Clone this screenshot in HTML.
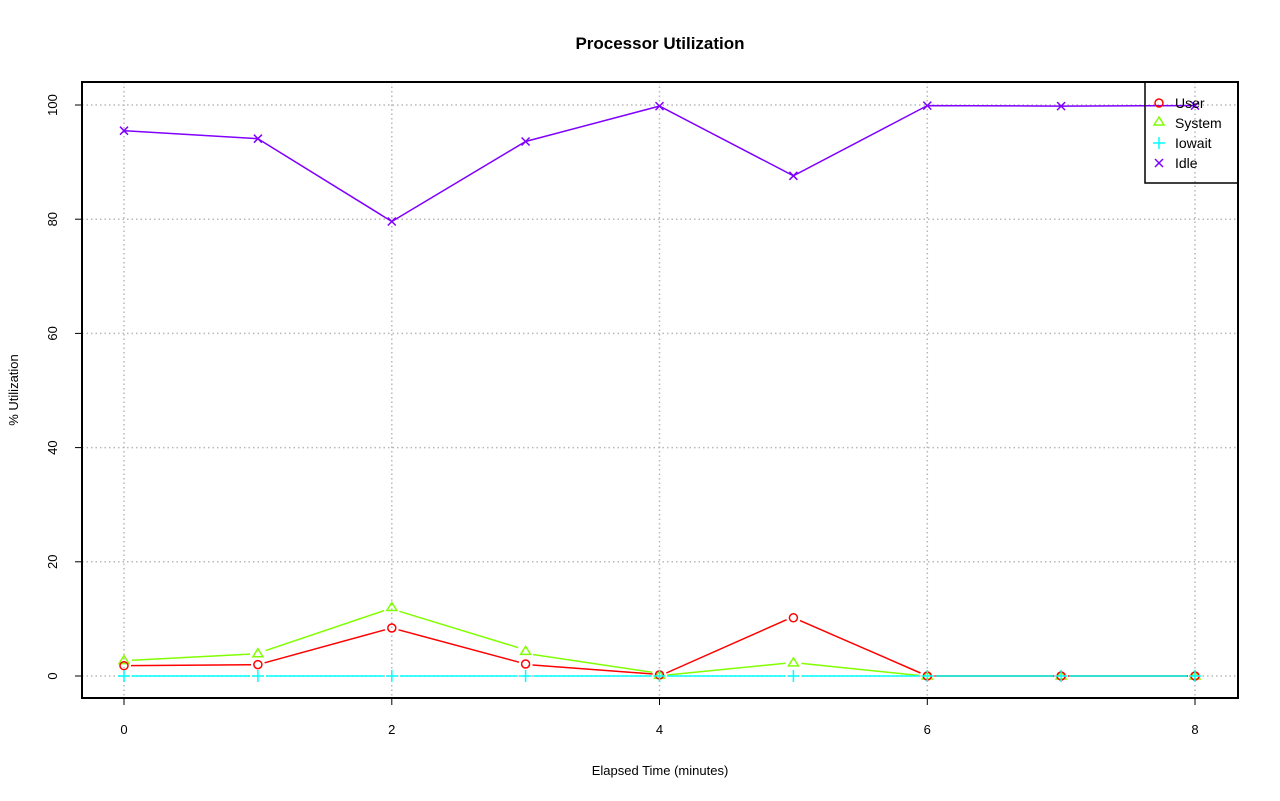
<!DOCTYPE html>
<html><head><meta charset="utf-8"><style>
html,body{margin:0;padding:0;background:#fff;}
svg{display:block;font-family:"Liberation Sans",sans-serif;}
</style></head><body>
<svg width="1280" height="801" xmlns="http://www.w3.org/2000/svg">
<rect width="1280" height="801" fill="#fff"/>
<text x="660" y="49" text-anchor="middle" font-size="17" font-weight="bold">Processor Utilization</text>
<g stroke="#b8b8b8" stroke-dasharray="1.5,3" stroke-width="1.5">
<line x1="124" y1="82" x2="124" y2="698"/><line x1="391.8" y1="82" x2="391.8" y2="698"/><line x1="659.5" y1="82" x2="659.5" y2="698"/><line x1="927.3" y1="82" x2="927.3" y2="698"/><line x1="1195" y1="82" x2="1195" y2="698"/>
<line x1="82" y1="676" x2="1238" y2="676"/><line x1="82" y1="561.8" x2="1238" y2="561.8"/><line x1="82" y1="447.6" x2="1238" y2="447.6"/><line x1="82" y1="333.4" x2="1238" y2="333.4"/><line x1="82" y1="219.2" x2="1238" y2="219.2"/><line x1="82" y1="105" x2="1238" y2="105"/>
</g>
<rect x="82" y="82" width="1156" height="616" fill="none" stroke="#000" stroke-width="2"/>
<g stroke="#000" stroke-width="1">
<line x1="124" y1="698" x2="1195" y2="698"/>
<line x1="124" y1="698" x2="124" y2="705"/><line x1="391.8" y1="698" x2="391.8" y2="705"/><line x1="659.5" y1="698" x2="659.5" y2="705"/><line x1="927.3" y1="698" x2="927.3" y2="705"/><line x1="1195" y1="698" x2="1195" y2="705"/>
<line x1="82" y1="105" x2="82" y2="676"/>
<line x1="75" y1="676" x2="82" y2="676"/><line x1="75" y1="561.8" x2="82" y2="561.8"/><line x1="75" y1="447.6" x2="82" y2="447.6"/><line x1="75" y1="333.4" x2="82" y2="333.4"/><line x1="75" y1="219.2" x2="82" y2="219.2"/><line x1="75" y1="105" x2="82" y2="105"/>
</g>
<g font-size="13" text-anchor="middle">
<text x="124" y="734">0</text><text x="391.8" y="734">2</text><text x="659.5" y="734">4</text><text x="927.3" y="734">6</text><text x="1195" y="734">8</text>
<text x="660" y="775">Elapsed Time (minutes)</text>
</g>
<g font-size="13" text-anchor="middle">
<text transform="translate(57,676) rotate(-90)">0</text>
<text transform="translate(57,561.8) rotate(-90)">20</text>
<text transform="translate(57,447.6) rotate(-90)">40</text>
<text transform="translate(57,333.4) rotate(-90)">60</text>
<text transform="translate(57,219.2) rotate(-90)">80</text>
<text transform="translate(57,105) rotate(-90)">100</text>
<text transform="translate(18,390) rotate(-90)">% Utilization</text>
</g>
<!-- Idle -->
<polyline fill="none" stroke="#8000ff" stroke-width="1.5" points="124,130.7 257.9,138.7 391.8,221.5 525.6,141.5 659.5,106.1 793.4,175.8 927.3,105.6 1061.1,106.1 1195,105.6"/>
<g stroke="#8000ff" stroke-width="1.5">
<path d="M120,126.7l8,8M128,126.7l-8,8M253.9,134.7l8,8M261.9,134.7l-8,8M387.8,217.5l8,8M395.8,217.5l-8,8M521.6,137.5l8,8M529.6,137.5l-8,8M655.5,102.1l8,8M663.5,102.1l-8,8M789.4,171.8l8,8M797.4,171.8l-8,8M923.3,101.6l8,8M931.3,101.6l-8,8M1057.1,102.1l8,8M1065.1,102.1l-8,8M1191,101.6l8,8M1199,101.6l-8,8"/>
</g>
<!-- System -->
<g fill="none" stroke="#80ff00" stroke-width="1.5">
<line x1="132" y1="660.2" x2="250" y2="654.1"/><line x1="265.6" y1="650.6" x2="384.1" y2="610.6"/><line x1="399.3" y1="611.3" x2="518.1" y2="647.6"/><line x1="532.9" y1="654.5" x2="652.2" y2="672.3"/><line x1="667.3" y1="675" x2="785.6" y2="663.3"/><line x1="801.3" y1="663.4" x2="919.4" y2="675.5"/><line x1="935.3" y1="676" x2="1053.1" y2="676"/><line x1="1069.1" y1="676" x2="1187" y2="676"/>
<path d="M124,655.6l5,8h-10z M257.9,648.7l5,8h-10z M391.8,602.5l5,8h-10z M525.6,646.4l5,8h-10z M659.5,670.4l5,8h-10z M793.4,657.9l5,8h-10z M927.3,671l5,8h-10z M1061.1,671l5,8h-10z M1195,671l5,8h-10z"/>
</g>
<!-- User -->
<g fill="none" stroke="#ff0000" stroke-width="1.5">
<line x1="131" y1="665.6" x2="251" y2="664.7"/><line x1="264.6" y1="662.8" x2="385" y2="629.8"/><line x1="398.5" y1="629.8" x2="519" y2="662.2"/><line x1="532.5" y1="665" x2="652.7" y2="674"/><line x1="666.3" y1="673" x2="786.6" y2="619.7"/><line x1="800" y1="620.6" x2="920.5" y2="673"/><line x1="934.3" y1="676" x2="1054.1" y2="676"/><line x1="1068.1" y1="676" x2="1188" y2="676"/>
<circle cx="124" cy="665.7" r="4"/><circle cx="257.9" cy="664.6" r="4"/><circle cx="391.8" cy="628" r="4"/><circle cx="525.6" cy="664" r="4"/><circle cx="659.5" cy="674.9" r="4"/><circle cx="793.4" cy="617.8" r="4"/><circle cx="927.3" cy="676" r="4"/><circle cx="1061.1" cy="676" r="4"/><circle cx="1195" cy="676" r="4"/>
</g>
<!-- Iowait -->
<g stroke="#00ffff" stroke-width="1.5">
<path d="M132,676h118M265.9,676h118M399.8,676h118M533.6,676h118M667.5,676h118M801.4,676h118M935.3,676h118M1069.1,676h118"/>
<path d="M118,676h12M124,670v12M251.9,676h12M257.9,670v12M385.8,676h12M391.8,670v12M519.6,676h12M525.6,670v12M653.5,676h12M659.5,670v12M787.4,676h12M793.4,670v12M921.3,676h12M927.3,670v12M1055.1,676h12M1061.1,670v12M1189,676h12M1195,670v12"/>
</g>
<!-- Legend -->
<rect x="1145" y="82" width="93" height="101" fill="none" stroke="#000" stroke-width="1.5"/>
<circle cx="1159" cy="103" r="4" fill="none" stroke="#ff0000" stroke-width="1.5"/>
<path d="M1159,117l5,8h-10z" fill="none" stroke="#80ff00" stroke-width="1.5"/>
<path d="M1153,143h12M1159,137v12" stroke="#00ffff" stroke-width="1.5"/>
<path d="M1155,159l8,8M1163,159l-8,8" stroke="#8000ff" stroke-width="1.5"/>
<g font-size="14">
<text x="1175" y="108">User</text><text x="1175" y="128">System</text><text x="1175" y="148">Iowait</text><text x="1175" y="168">Idle</text>
</g>
</svg>
</body></html>
